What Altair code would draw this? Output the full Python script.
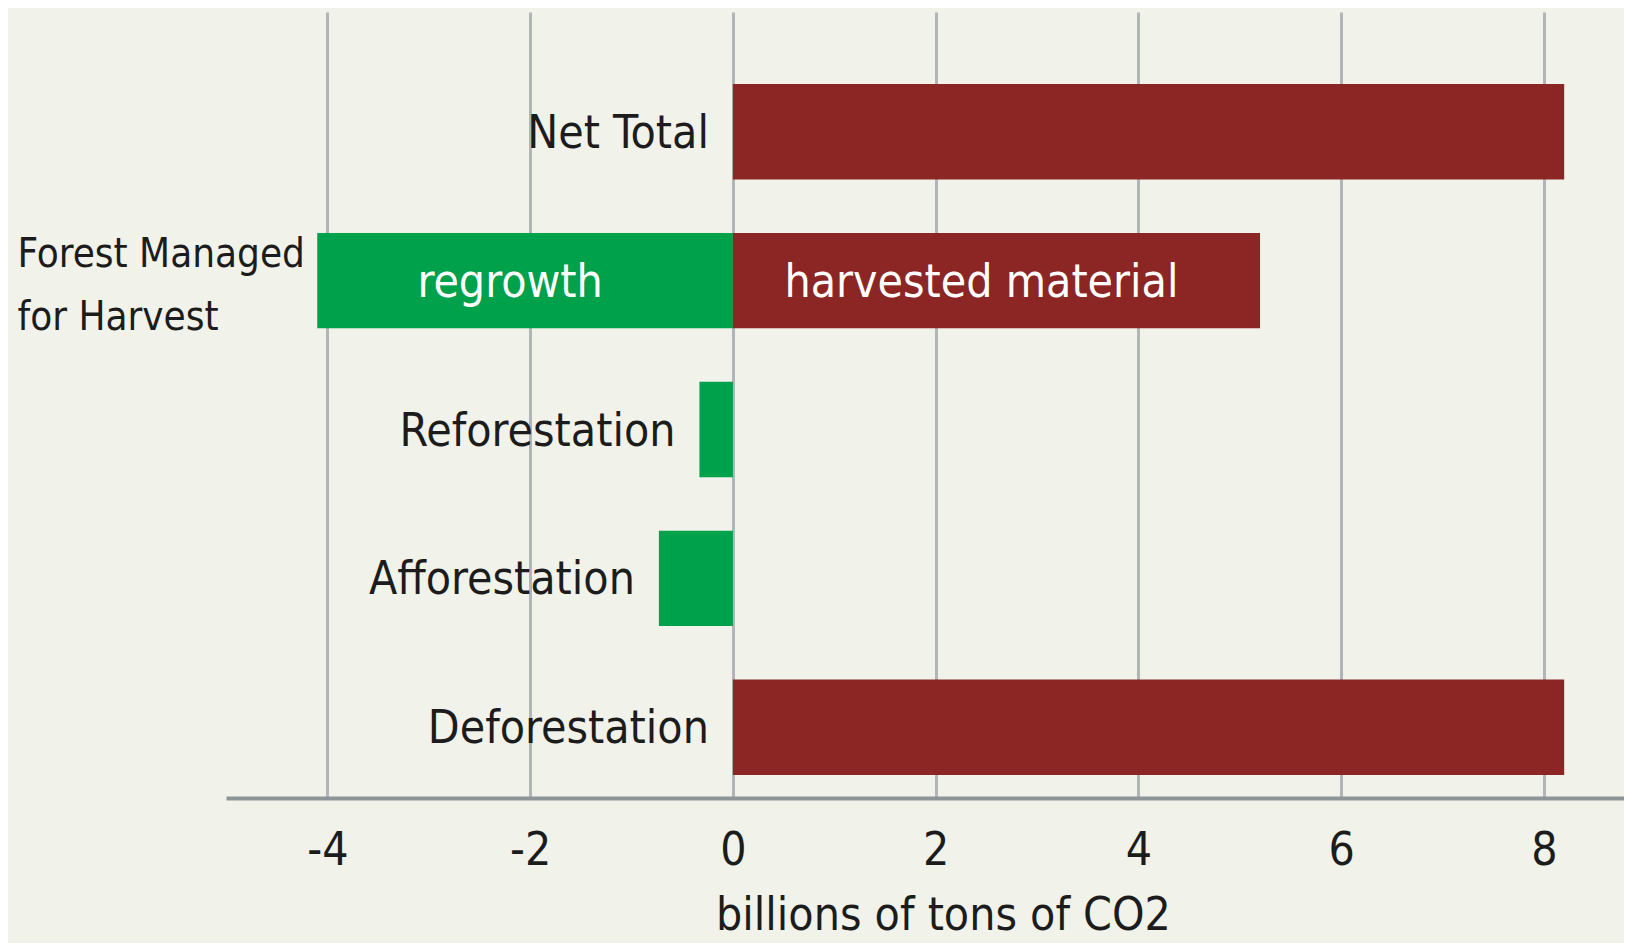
import altair as alt
import pandas as pd

# ---- data ----
categories = ["Net Total", "Forest Managed for Harvest", "Forest Managed for Harvest",
              "Reforestation", "Afforestation", "Deforestation"]
segments = ["", "regrowth", "harvested material", "", "", ""]
values = [8.2, -4.1, 5.2, -0.33, -0.73, 8.2]
category_order = ["Net Total", "Forest Managed for Harvest", "Reforestation",
                  "Afforestation", "Deforestation"]
x_ticks = [-4, -2, 0, 2, 4, 6, 8]
x_title = "billions of tons of CO2"

df = pd.DataFrame({"category": categories, "segment": segments, "value": values})

FONT = "'Liberation Sans Narrow', 'Arial Narrow', 'DejaVu Sans Condensed', 'Roboto Condensed', sans-serif"
GREEN = "#00a14b"
RED = "#8b2624"
BG = "#f1f2ea"
TXT = "#1c1c1c"
FS = 46

xscale = alt.Scale(domain=[-5, 8.79], nice=False, zero=False)
yscale = alt.Scale(domain=category_order, paddingInner=0.359, paddingOuter=0.319, align=0.758)

xaxis = alt.Axis(values=x_ticks, title=x_title, ticks=False, tickSize=0,
                 grid=True, gridColor="#b2b5b8", gridWidth=3,
                 domain=True, domainColor="#8e9599", domainWidth=4,
                 labelExpr="datum.value < 0 ? '-' + abs(datum.value) : '' + datum.value",
                 labelFont=FONT, labelFontSize=FS, labelColor=TXT,
                 labelBaseline="alphabetic", labelPadding=66,
                 labelFlush=False, labelOverlap=False,
                 titleFont=FONT, titleFontSize=FS, titleColor=TXT,
                 titleFontWeight="normal", titleBaseline="alphabetic",
                 titleX=717, titleY=131, titleAlign="center")
yaxis = alt.Axis(title=None, domain=False, ticks=False, tickSize=0, grid=False,
                 labelExpr="datum.label == 'Forest Managed for Harvest' ? ['Forest Managed', 'for Harvest'] : ''",
                 labelAlign="left", labelPadding=209, labelLimit=1000,
                 labelFont=FONT, labelFontSize=40, labelColor=TXT,
                 labelLineHeight=63, labelBaseline="middle", labelOffset=-26)

base = alt.Chart(df)

bars = base.transform_calculate(
    sign="datum.value < 0 ? 'sink' : 'source'"
).mark_bar().encode(
    x=alt.X("value:Q", scale=xscale, axis=xaxis),
    x2=alt.datum(0),
    y=alt.Y("category:N", scale=yscale, axis=yaxis),
    color=alt.Color("sign:N", scale=alt.Scale(domain=["sink", "source"], range=[GREEN, RED]),
                    legend=None),
)

seg_text = base.transform_filter("datum.segment != ''").transform_calculate(
    mid="datum.value / 2"
).mark_text(font=FONT, fontSize=FS, color="white", baseline="alphabetic", dy=16, dx=-15).encode(
    x=alt.X("mid:Q", scale=xscale, axis=xaxis),
    y=alt.Y("category:N", scale=yscale, axis=yaxis),
    text="segment:N",
)

side_text = base.transform_filter(
    "datum.category != 'Forest Managed for Harvest'"
).transform_calculate(
    left="min(datum.value, 0)"
).mark_text(font=FONT, fontSize=FS, color=TXT, align="right", baseline="alphabetic",
            dy=16, dx=-24).encode(
    x=alt.X("left:Q", scale=xscale, axis=xaxis),
    y=alt.Y("category:N", scale=yscale, axis=yaxis),
    text="category:N",
)

chart = alt.layer(bars, seg_text, side_text).properties(
    width=1398, height=786,
    autosize=alt.AutoSizeParams(type="none"),
    padding={"left": 218, "top": 4, "right": 0, "bottom": 145},
    background=BG,
).configure_view(stroke=None)

chart.save("out.html", embed_options={"renderer": "svg", "actions": False})
